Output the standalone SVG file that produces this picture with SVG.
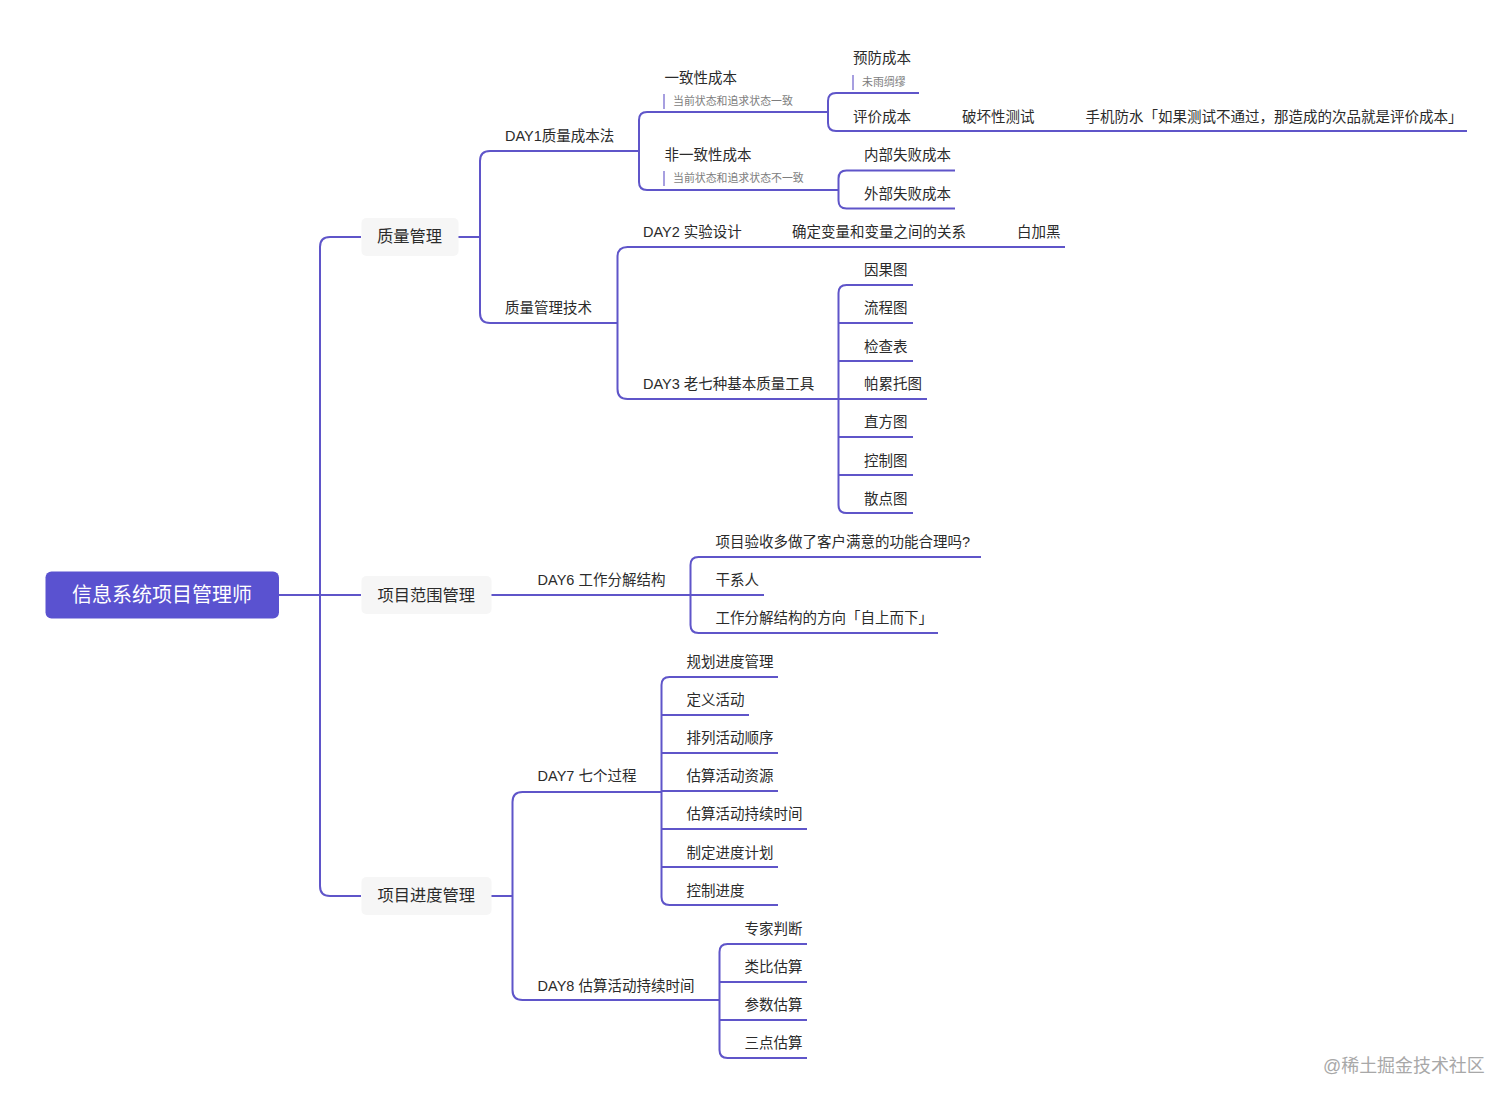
<svg xmlns="http://www.w3.org/2000/svg" width="1512" height="1104" viewBox="0 0 1512 1104">
<style>
text{font-family:"Liberation Sans","Noto Sans CJK SC",sans-serif;fill:#2b2b2b;font-size:14.5px}
.c{fill:none;stroke:#5f55c9;stroke-width:2}
.t{font-size:16.25px}
.r{font-size:20px;fill:#fff}
.n{font-size:10.9px;fill:#7d7d7d}
.b{fill:#a79fe0}
.p{fill:#f6f6f6}
.w{font-size:17.95px;fill:#a8a8a8}
</style>
<rect width="1512" height="1104" fill="#fff"/>
<g id="connectors">
<path class="c" d="M279 595H361M361 237H330Q320 237 320 247V886Q320 896 330 896H361"/>
<path class="c" d="M458 237H480M639 151H490Q480 151 480 161V313Q480 323 490 323H617.500"/>
<path class="c" d="M828 112H647Q639 112 639 120V182Q639 190 647 190H838.500"/>
<path class="c" d="M919 93H836Q828 93 828 101V123Q828 131 836 131H1467"/>
<path class="c" d="M955 170.500H846.500Q838.500 170.500 838.500 178.500V200.500Q838.500 208.500 846.500 208.500H955"/>
<path class="c" d="M1065 247H627.500Q617.500 247 617.500 257V389Q617.500 399 627.500 399H838.500"/>
<path class="c" d="M913 285H846.500Q838.500 285 838.500 293V505Q838.500 513 846.500 513H913M838.500 323H913M838.500 361H913M838.500 399H927M838.500 437H913M838.500 475H913"/>
<path class="c" d="M491 595H690.500M981 557H698.500Q690.500 557 690.500 565V625Q690.500 633 698.500 633H938M690.500 595H764"/>
<path class="c" d="M491 896H512.500M661.500 792H522.500Q512.500 792 512.500 802V990Q512.500 1000 522.500 1000H719.500"/>
<path class="c" d="M778 677H669.500Q661.500 677 661.500 685V897Q661.500 905 669.500 905H778M661.500 715H749M661.500 753H778M661.500 791H778M661.500 829H807M661.500 867H778"/>
<path class="c" d="M807 944H727.500Q719.500 944 719.500 952V1050Q719.500 1058 727.500 1058H807M719.500 982H807M719.500 1020H807"/>
</g>
<g id="root"><rect x="45.500" y="571.500" width="233.500" height="47" rx="6" fill="#5a52d0"/><text class="r" x="72" y="601.500">信息系统项目管理师</text></g>
<g id="topic1"><rect class="p" x="361.500" y="218" width="97" height="38" rx="5"/><text class="t" x="377" y="242">质量管理</text></g>
<g id="topic2"><rect class="p" x="361.500" y="576" width="130" height="38" rx="5"/><text class="t" x="377.500" y="600.500">项目范围管理</text></g>
<g id="topic3"><rect class="p" x="361.500" y="877" width="130" height="38" rx="5"/><text class="t" x="377.500" y="901">项目进度管理</text></g>
<g id="day1"><text x="505" y="141">DAY1质量成本法</text></g>
<g id="consistent"><text x="664.600" y="82.500">一致性成本</text><rect class="b" x="663" y="94" width="2" height="15"/><text class="n" x="673" y="105">当前状态和追求状态一致</text></g>
<g id="nonconsistent"><text x="664.600" y="160">非一致性成本</text><rect class="b" x="663" y="171" width="2" height="15"/><text class="n" x="673" y="182">当前状态和追求状态不一致</text></g>
<g id="prevent"><text x="853" y="63">预防成本</text><rect class="b" x="852" y="75" width="2" height="15"/><text class="n" x="862" y="86">未雨绸缪</text></g>
<g id="appraise"><text x="853" y="121.500">评价成本</text></g>
<g id="destroy"><text x="962" y="121.500">破坏性测试</text></g>
<g id="phone"><text x="1085.600" y="121.500">手机防水「如果测试不通过，那造成的次品就是评价成本」</text></g>
<g id="internal"><text x="864" y="160">内部失败成本</text></g>
<g id="external"><text x="864" y="198.500">外部失败成本</text></g>
<g id="tech"><text x="505" y="313">质量管理技术</text></g>
<g id="day2"><text x="643" y="236.500">DAY2 实验设计</text></g>
<g id="vars"><text x="792" y="236.500">确定变量和变量之间的关系</text></g>
<g id="bw"><text x="1017" y="236.500">白加黑</text></g>
<g id="day3"><text x="643" y="389">DAY3 老七种基本质量工具</text></g>
<g id="t1"><text x="864" y="275">因果图</text></g>
<g id="t2"><text x="864" y="313">流程图</text></g>
<g id="t3"><text x="864" y="351.500">检查表</text></g>
<g id="t4"><text x="864" y="389">帕累托图</text></g>
<g id="t5"><text x="864" y="427">直方图</text></g>
<g id="t6"><text x="864" y="465.500">控制图</text></g>
<g id="t7"><text x="864" y="503.500">散点图</text></g>
<g id="day6"><text x="537.600" y="585">DAY6 工作分解结构</text></g>
<g id="s1"><text x="715.600" y="547">项目验收多做了客户满意的功能合理吗?</text></g>
<g id="s2"><text x="715.600" y="585">干系人</text></g>
<g id="s3"><text x="715.600" y="623">工作分解结构的方向「自上而下」</text></g>
<g id="day7"><text x="537.600" y="781">DAY7 七个过程</text></g>
<g id="p1"><text x="686.600" y="667">规划进度管理</text></g>
<g id="p2"><text x="686.600" y="705">定义活动</text></g>
<g id="p3"><text x="686.600" y="743">排列活动顺序</text></g>
<g id="p4"><text x="686.600" y="781">估算活动资源</text></g>
<g id="p5"><text x="686.600" y="819">估算活动持续时间</text></g>
<g id="p6"><text x="686.600" y="857.500">制定进度计划</text></g>
<g id="p7"><text x="686.600" y="895.500">控制进度</text></g>
<g id="day8"><text x="537.600" y="990.500">DAY8 估算活动持续时间</text></g>
<g id="e1"><text x="744.600" y="933.500">专家判断</text></g>
<g id="e2"><text x="744.600" y="971.500">类比估算</text></g>
<g id="e3"><text x="744.600" y="1009.500">参数估算</text></g>
<g id="e4"><text x="744.600" y="1047.500">三点估算</text></g>
<text class="w" x="1323" y="1072">@稀土掘金技术社区</text>
</svg>
